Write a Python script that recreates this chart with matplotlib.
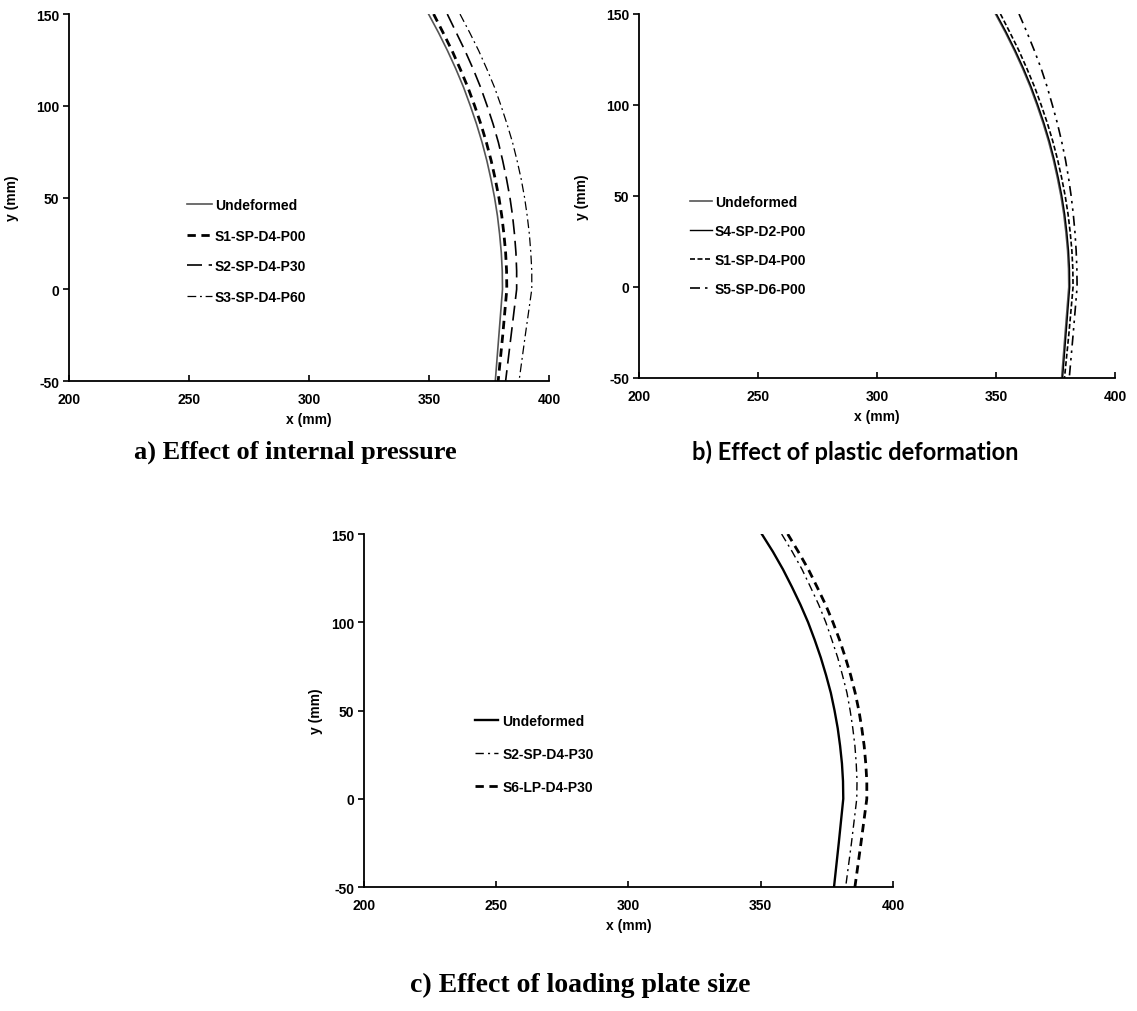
import matplotlib
matplotlib.use('Agg')
import matplotlib.pyplot as plt

# y levels where the profiles were read [mm]
y_lvl = [150, 140, 130, 120, 110, 100, 90, 80, 70, 60, 50, 40, 30, 20, 10, 0, -25, -50]

# a) internal pressure
a_undef = [349.8, 353.9, 357.7, 361.2, 364.4, 367.2, 369.8, 372.1, 374.1, 375.8, 377.3, 378.5, 379.4, 380.1, 380.5, 380.6, 379.1, 377.6]
a_s1 = [351.9, 355.8, 359.6, 363.0, 366.2, 369.0, 371.6, 373.9, 375.9, 377.6, 379.1, 380.3, 381.2, 381.9, 382.3, 382.4, 380.7, 378.8]
a_s2 = [357.6, 361.3, 365.0, 368.4, 371.5, 374.2, 376.7, 378.9, 380.7, 382.3, 383.7, 384.8, 385.6, 386.2, 386.5, 386.5, 384.2, 381.9]
a_s3 = [362.9, 366.9, 370.7, 374.1, 377.3, 380.0, 382.5, 384.8, 386.7, 388.4, 389.8, 390.9, 391.8, 392.4, 392.8, 392.8, 390.1, 387.5]

# b) plastic deformation
b_undef = [349.8, 353.9, 357.7, 361.2, 364.4, 367.2, 369.8, 372.1, 374.1, 375.8, 377.3, 378.5, 379.4, 380.1, 380.5, 380.6, 379.1, 377.6]
b_s4 = [350.2, 354.3, 358.1, 361.6, 364.8, 367.6, 370.2, 372.5, 374.5, 376.2, 377.7, 378.9, 379.8, 380.5, 380.9, 381.0, 379.5, 378.0]
b_s1 = [351.9, 355.8, 359.6, 363.0, 366.2, 369.0, 371.6, 373.9, 375.9, 377.6, 379.1, 380.3, 381.2, 381.9, 382.3, 382.4, 380.7, 378.8]
b_s5 = [359.7, 363.0, 366.1, 369.0, 371.5, 373.7, 375.8, 377.6, 379.2, 380.5, 381.6, 382.5, 383.2, 383.7, 384.0, 384.1, 382.5, 380.8]

# c) loading plate size
c_undef = [350.4, 354.6, 358.4, 361.8, 365.0, 367.9, 370.4, 372.7, 374.7, 376.5, 377.9, 379.1, 380.0, 380.7, 381.1, 381.2, 379.5, 377.7]
c_s2 = [357.9, 361.9, 365.6, 368.8, 371.9, 374.6, 376.9, 379.1, 380.9, 382.6, 383.8, 384.8, 385.6, 386.1, 386.4, 386.3, 384.3, 382.1]
c_s6 = [360.2, 364.2, 368.0, 371.3, 374.5, 377.3, 379.8, 382.0, 384.0, 385.7, 387.1, 388.2, 389.1, 389.7, 390.1, 390.1, 387.9, 385.6]

x_ticks = [200, 250, 300, 350, 400]
y_ticks = [-50, 0, 50, 100, 150]

plt.rcParams['font.family'] = ['Liberation Sans', 'DejaVu Sans']
plt.rcParams['font.weight'] = 'bold'
plt.rcParams['font.size'] = 10
plt.rcParams['axes.unicode_minus'] = False

fig = plt.figure(figsize=(11.37, 10.12), dpi=100, facecolor='white')

def style_axes(ax, ypad):
    ax.set_xlim(200, 400)
    ax.set_ylim(-50, 150)
    ax.set_xticks(x_ticks)
    ax.set_yticks(y_ticks)
    ax.spines['top'].set_visible(False)
    ax.spines['right'].set_visible(False)
    ax.spines['left'].set_linewidth(1.3)
    ax.spines['bottom'].set_linewidth(1.3)
    ax.tick_params(axis='x', direction='in', length=4, width=1.2, pad=8)
    ax.tick_params(axis='y', direction='out', length=4, width=1.2, pad=3)
    for lbl in ax.get_xticklabels() + ax.get_yticklabels():
        lbl.set_fontweight('bold')
    ax.set_xlabel('x (mm)', fontweight='bold', labelpad=4)
    ax.set_ylabel('y (mm)', fontweight='bold', labelpad=ypad)

# Subplot a
ax0 = fig.add_axes([0.0607, 0.6225, 0.4222, 0.3626])
ax0.plot(a_undef, y_lvl, color='#555555', lw=1.2, label='Undeformed')
ax0.plot(a_s1, y_lvl, color='black', lw=2.0, ls=(0, (3, 2)), label='S1-SP-D4-P00')
ax0.plot(a_s2, y_lvl, color='black', lw=1.2, ls=(0, (9, 4)), label='S2-SP-D4-P30')
ax0.plot(a_s3, y_lvl, color='black', lw=0.9, ls=(0, (7, 3, 1.5, 3)), label='S3-SP-D4-P60')
style_axes(ax0, 12)
ax0.legend(loc='upper left', bbox_to_anchor=(0.246, 0.499), frameon=False,
           borderpad=0, borderaxespad=0, handlelength=1.8, handletextpad=0.2,
           labelspacing=1.2, prop={'weight': 'bold', 'size': 10})

# Subplot b
ax1 = fig.add_axes([0.562, 0.6255, 0.4186, 0.3597])
ax1.plot(b_undef, y_lvl, color='#555555', lw=1.2, label='Undeformed')
ax1.plot(b_s4, y_lvl, color='black', lw=1.0, label='S4-SP-D2-P00')
ax1.plot(b_s1, y_lvl, color='black', lw=1.2, ls=(0, (3, 1.5)), label='S1-SP-D4-P00')
ax1.plot(b_s5, y_lvl, color='black', lw=1.2, ls=(0, (6, 3, 1.5, 3, 1.5, 3)), label='S5-SP-D6-P00')
style_axes(ax1, 12)
ax1.legend(loc='upper left', bbox_to_anchor=(0.107, 0.503), frameon=False,
           borderpad=0, borderaxespad=0, handlelength=1.6, handletextpad=0.2,
           labelspacing=1.08, prop={'weight': 'bold', 'size': 10})

# Subplot c
ax2 = fig.add_axes([0.3201, 0.1225, 0.4653, 0.3488])
ax2.plot(c_undef, y_lvl, color='black', lw=1.7, label='Undeformed')
ax2.plot(c_s2, y_lvl, color='black', lw=1.0, ls=(0, (6, 3, 1.5, 3)), label='S2-SP-D4-P30')
ax2.plot(c_s6, y_lvl, color='black', lw=2.0, ls=(0, (3, 2)), label='S6-LP-D4-P30')
style_axes(ax2, 6)
ax2.legend(loc='upper left', bbox_to_anchor=(0.21, 0.49), frameon=False,
           borderpad=0, borderaxespad=0, handlelength=1.65, handletextpad=0.3,
           labelspacing=1.36, prop={'weight': 'bold', 'size': 10})

# captions
fig.text(0.26, 1 - 452 / 1012, 'a) Effect of internal pressure', ha='center', va='center',
         family='Liberation Serif', fontweight='bold', fontsize=19)
fig.text(0.752, 1 - 452 / 1012, 'b) Effect of plastic deformation', ha='center', va='center',
         family='Lato', fontweight='bold', fontsize=17)
fig.text(0.51, 1 - 985 / 1012, 'c) Effect of loading plate size', ha='center', va='center',
         family='Liberation Serif', fontweight='bold', fontsize=20)

fig.savefig('out.png', dpi=100, facecolor='white')
